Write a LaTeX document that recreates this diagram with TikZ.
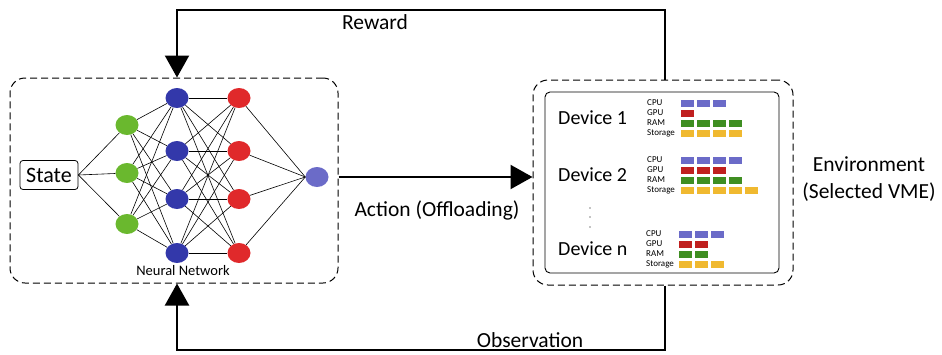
\documentclass[tikz,border=0pt]{standalone}
\usepackage{fontspec}
\setmainfont{Carlito}
\usetikzlibrary{arrows.meta,shapes.geometric,calc}
\definecolor{ngreen}{HTML}{6AB82E}
\definecolor{nblue}{HTML}{3338AA}
\definecolor{nred}{HTML}{E0292B}
\definecolor{nout}{HTML}{6B6BC8}
\definecolor{ccpu}{HTML}{6B6BC8}
\definecolor{cgpu}{HTML}{C0201F}
\definecolor{cram}{HTML}{3F8E22}
\definecolor{csto}{HTML}{F0B930}
\begin{document}
\begin{tikzpicture}[x=1pt,y=-1pt,
  neuron/.style={ellipse,inner sep=0pt,minimum width=23pt,minimum height=20pt},
  conn/.style={black,line width=0.6pt},
  dbox/.style={draw=black,dash pattern=on 7pt off 4pt,line width=1pt,rounded corners=15pt},
  flow/.style={line width=2.2pt,-{Triangle[length=22pt,width=24pt]}},
  lbl/.style={font=\fontsize{21.5}{24}\selectfont,inner sep=0pt},
  dev/.style={font=\fontsize{20}{22}\selectfont,inner sep=0pt,anchor=west},
  res/.style={font=\fontsize{9}{10}\selectfont,inner sep=0pt,anchor=west},
  bar/.style={minimum width=13pt,minimum height=7pt,inner sep=0pt,anchor=west}]
\useasboundingbox (0,0) rectangle (942,354);
% boxes
\node[dbox,minimum width=328pt,minimum height=205pt] (nnbox) at (174,180.5) {};
\node[dbox,minimum width=260pt,minimum height=205pt] (envbox) at (663,182.5) {};
\node[draw,line width=0.9pt,rounded corners=5pt,minimum width=234pt,minimum height=181pt] (inner) at (662,182.5) {};
% neural network
\node[draw,line width=0.8pt,rounded corners=3pt,minimum width=58pt,minimum height=29pt,inner sep=0pt,font=\fontsize{22}{24}\selectfont] (state) at (49,175) {State};
\foreach \i/\y in {1/125,2/173,3/224} \node[neuron,fill=ngreen] (g\i) at (127,\y) {};
\foreach \i/\y in {1/98,2/151,3/199,4/253} \node[neuron,fill=nblue] (b\i) at (177,\y) {};
\foreach \i/\y in {1/98,2/151,3/199,4/253} \node[neuron,fill=nred] (r\i) at (239,\y) {};
\node[neuron,fill=nout] (o) at (317,177) {};
\foreach \i in {1,2,3} \draw[conn] (state.east) -- (g\i);
\foreach \i in {1,2,3} \foreach \j in {1,2,3,4} \draw[conn] (g\i) -- (b\j);
\foreach \i in {1,2,3,4} \foreach \j in {1,2,3,4} \draw[conn] (b\i) -- (r\j);
\foreach \i in {1,2,3,4} \draw[conn] (r\i) -- (o.west);
\node[font=\fontsize{14.5}{16}\selectfont,inner sep=0pt] (nnl) at (183,271) {Neural Network};
% arrows
\coordinate (rx) at (665,0);
\coordinate (lx) at (177,0);
\draw[flow] (rx |- envbox.north) -- (665,10) -- (177,10) -- (lx |- nnbox.north);
\draw[flow] (rx |- envbox.south) -- (665,350) -- (177,350) -- (lx |- nnbox.south);
\draw[flow] (nnbox.east |- o) -- (envbox.west |- o);
\node[lbl] (rew) at (375,22) {Reward};
\node[lbl] (obs) at (530,340) {Observation};
\node[lbl] (act) at (437,210) {Action (Offloading)};
\node[lbl,align=center,font=\fontsize{21.5}{27}\selectfont] (envl) at (869,179) {Environment\\(Selected VME)};
% devices
\node[dev] (d1) at (558,118) {Device 1};
\node[dev] (d2) at (558,175) {Device 2};
\node[dev] (dn) at (558,249) {Device n};
\foreach \y in {208,217,227} \fill (590,\y) circle (0.7pt);
% resources
\foreach \dy/\x/\lx/\nc/\ng/\nr/\ns [count=\k] in {103/681/647/3/1/4/4, 160/681/647/4/3/4/5, 234/679/646/3/2/2/3}{
  \node[res] (cpu\k) at (\lx,\dy) {CPU};
  \node[res] (gpu\k) at (\lx,\dy+10) {GPU};
  \node[res] (ram\k) at (\lx,\dy+20) {RAM};
  \node[res] (sto\k) at (\lx,\dy+30) {Storage};
  \foreach \m in {1,...,\nc} \node[bar,fill=ccpu] (c\k\m) at (\x+16*\m-16,\dy) {};
  \foreach \m in {1,...,\ng} \node[bar,fill=cgpu] (gp\k\m) at (\x+16*\m-16,\dy+10) {};
  \foreach \m in {1,...,\nr} \node[bar,fill=cram] (ra\k\m) at (\x+16*\m-16,\dy+20) {};
  \foreach \m in {1,...,\ns} \node[bar,fill=csto] (st\k\m) at (\x+16*\m-16,\dy+30) {};
}
\end{tikzpicture}
\end{document}
